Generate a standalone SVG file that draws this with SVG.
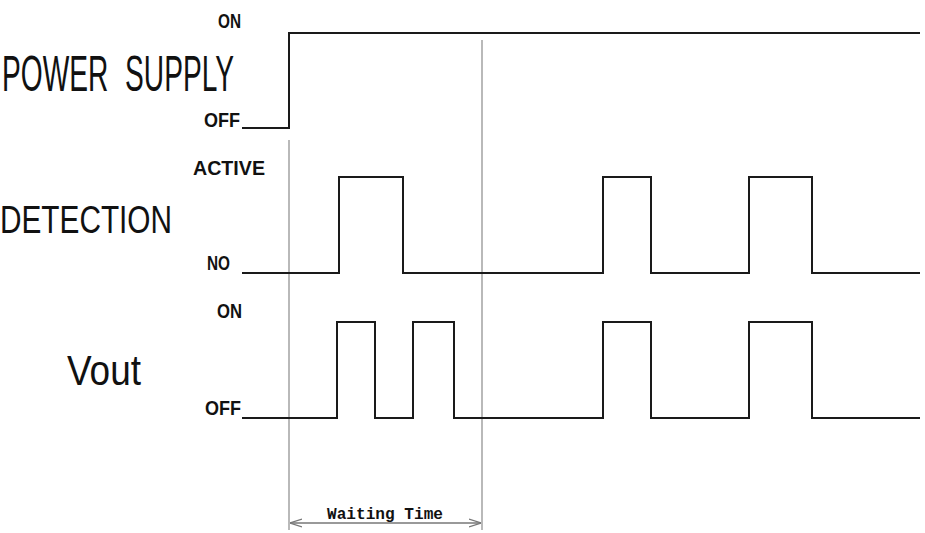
<svg xmlns="http://www.w3.org/2000/svg" width="925" height="533" viewBox="0 0 925 533">
<style>
.wave{fill:none;stroke:#1a1a1a;stroke-width:2;stroke-linejoin:miter}
.ref{fill:none;stroke:#8a8a8a;stroke-width:1.2}
.big{font-family:"Liberation Sans",Arial,sans-serif;fill:#111}
.lvl{font-family:"Liberation Sans",Arial,sans-serif;font-weight:bold;fill:#111;font-size:20px}
.wt{font-family:"Liberation Mono","Courier New",monospace;font-weight:bold;fill:#111;font-size:17px}
</style>
<defs>
<marker id="ah" viewBox="0 0 12 10" refX="12" refY="5" markerWidth="12" markerHeight="10" markerUnits="userSpaceOnUse" orient="auto-start-reverse">
<path d="M0,1 L12,5 L0,9" fill="none" stroke="#777" stroke-width="1.3"/>
</marker>
</defs>
<g id="labels">
<text class="big" x="2" y="91" font-size="50" word-spacing="16" textLength="232" lengthAdjust="spacingAndGlyphs">POWER SUPPLY</text>
<text class="big" x="0" y="233" font-size="39" textLength="172" lengthAdjust="spacingAndGlyphs">DETECTION</text>
<text class="big" x="67" y="385" font-size="43" textLength="74" lengthAdjust="spacingAndGlyphs">Vout</text>
<text class="lvl" x="218" y="28" textLength="23" lengthAdjust="spacingAndGlyphs">ON</text>
<text class="lvl" x="204" y="127" textLength="36" lengthAdjust="spacingAndGlyphs">OFF</text>
<text class="lvl" x="193" y="175" textLength="72" lengthAdjust="spacingAndGlyphs">ACTIVE</text>
<text class="lvl" x="207" y="270" textLength="23" lengthAdjust="spacingAndGlyphs">NO</text>
<text class="lvl" x="217" y="318" textLength="25" lengthAdjust="spacingAndGlyphs">ON</text>
<text class="lvl" x="205" y="415" textLength="36" lengthAdjust="spacingAndGlyphs">OFF</text>
</g>
<g id="reference-lines">
<line class="ref" x1="289" y1="140" x2="289" y2="530"/>
<line class="ref" x1="482" y1="40" x2="482" y2="530"/>
</g>
<g id="power-supply">
<polyline class="wave" points="242,128 289,128 289,33 920,33"/>
</g>
<g id="detection">
<polyline class="wave" points="242,273 339,273 339,177 403,177 403,273 603,273 603,177 651,177 651,273 749,273 749,177 812,177 812,273 920,273"/>
</g>
<g id="vout">
<polyline class="wave" points="242,418 337,418 337,322 375,322 375,418 413,418 413,322 454,322 454,418 603,418 603,322 651,322 651,418 749,418 749,322 812,322 812,418 920,418"/>
</g>
<g id="waiting-time">
<line x1="290" y1="523" x2="481" y2="523" stroke="#777" stroke-width="1.5" marker-start="url(#ah)" marker-end="url(#ah)"/>
<text class="wt" x="327" y="519" textLength="116" lengthAdjust="spacingAndGlyphs">Waiting Time</text>
</g>
</svg>
